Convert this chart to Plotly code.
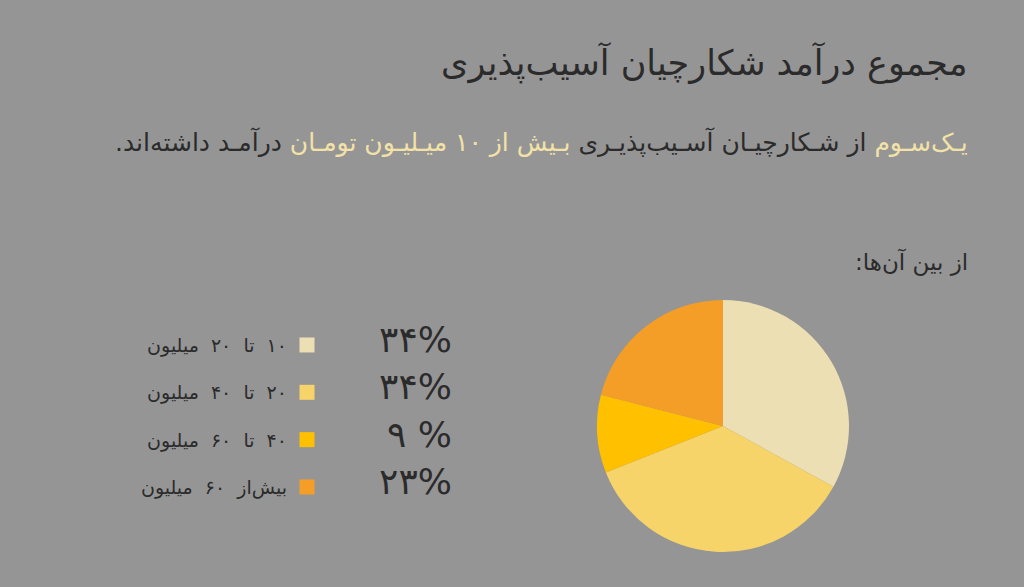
import plotly.graph_objects as go

RLM = "\u200f"

# Data
categories = ["۱۰  تا  ۲۰  میلیون", "۲۰  تا  ۴۰  میلیون", "۴۰  تا  ۶۰  میلیون", "بیش‌از  ۶۰  میلیون"]
slice_values = [33, 36, 10, 21]
pct_labels = ["۳۴%", "۳۴%", "۹ %", "۲۳%"]
colors = ["#EDDFB4", "#F7D469", "#FFC000", "#F59E27"]

title_text = "مجموع درآمد شکارچیان آسیب‌پذیری"
sub_hi1 = "یـک‌سـوم"
sub_mid = "از شـکارچیـان آسـیب‌پذیـری"
sub_hi2 = "بـیش از ۱۰ میـلیـون تومـان"
sub_end = "درآمـد داشته‌اند."
among_text = "از بین آن‌ها:"

BG = "#959595"
DARK = "#2b2b2b"
HI = "#F2E2A8"
FONT = "DejaVu Sans"

fig = go.Figure()

fig.add_trace(go.Pie(
    values=slice_values,
    labels=categories,
    marker=dict(colors=colors, line=dict(width=0)),
    sort=False,
    direction="clockwise",
    rotation=0,
    textinfo="none",
    hoverinfo="label+percent",
    showlegend=False,
    domain=dict(x=[597/1024, 849/1024], y=[1-552/587, 1-300/587]),
))

rows = list(range(len(categories)))

# legend squares
fig.add_trace(go.Scatter(
    x=[307]*len(categories), y=rows, mode="markers",
    marker=dict(symbol="square", size=15, color=colors, line=dict(width=0)),
    showlegend=False, hoverinfo="skip", xaxis="x", yaxis="y",
))
# legend labels
fig.add_trace(go.Scatter(
    x=[287]*len(categories), y=[r + 0.05 for r in rows], mode="text",
    text=[RLM + c + RLM for c in categories], textposition="middle left",
    textfont=dict(family=FONT, size=19, color=DARK),
    showlegend=False, hoverinfo="skip",
))
# percentages
fig.add_trace(go.Scatter(
    x=[452]*len(categories), y=[r - 0.04 for r in rows], mode="text",
    text=pct_labels, textposition="middle left",
    textfont=dict(family=FONT, size=36, color=DARK),
    showlegend=False, hoverinfo="skip",
))

subtitle = (RLM + f"<span style='color:{HI}'>{sub_hi1}</span> {sub_mid} "
            f"<span style='color:{HI}'>{sub_hi2}</span> {sub_end}" + RLM)

fig.update_layout(
    width=1024, height=587,
    margin=dict(l=0, r=0, t=0, b=0),
    paper_bgcolor=BG, plot_bgcolor=BG,
    xaxis=dict(range=[0, 1024], domain=[0, 1], visible=False, fixedrange=True),
    yaxis=dict(range=[5.113, -7.288], domain=[0, 1], visible=False, fixedrange=True),
    annotations=[
        dict(text=RLM + title_text + RLM, x=970/1024, y=1-63/587, xref="paper", yref="paper",
             xanchor="right", yanchor="middle", showarrow=False,
             font=dict(family=FONT, size=35, color=DARK)),
        dict(text=subtitle, x=970/1024, y=1-142/587, xref="paper", yref="paper",
             xanchor="right", yanchor="middle", showarrow=False,
             font=dict(family=FONT, size=25, color=DARK)),
        dict(text=RLM + among_text + RLM, x=970/1024, y=1-262/587, xref="paper", yref="paper",
             xanchor="right", yanchor="middle", showarrow=False,
             font=dict(family=FONT, size=23, color=DARK)),
    ],
)

fig.write_html("out.html")
